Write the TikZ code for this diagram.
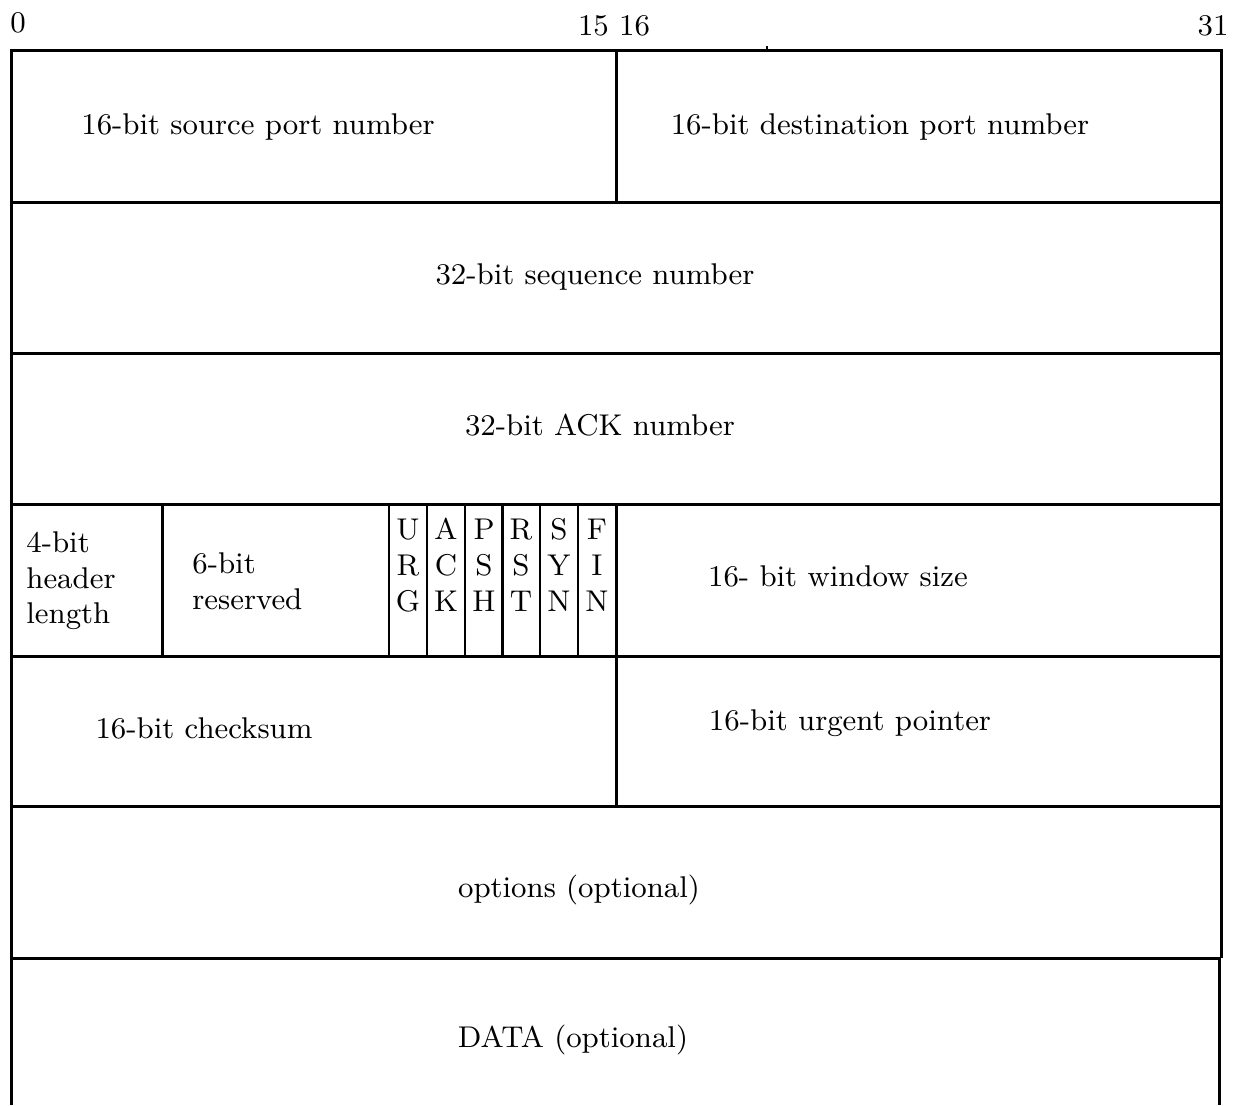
\documentclass[tikz,border=0pt]{standalone}
\usepackage{fontspec}
\setmainfont{lmroman9-regular.otf}
\begin{document}
\begin{tikzpicture}[x=0.5pt,y=-0.5pt,
  frame/.style={line width=1.5pt},
  thin/.style={line width=1.1pt},
  lbl/.style={inner sep=0pt,anchor=base,font=\fontsize{15}{18}\selectfont},
  lbll/.style={lbl,anchor=base west}]
\useasboundingbox (0,0) rectangle (1244,1105);
% horizontal lines
\draw[frame] (11,1105) -- (11,50) -- (1221,50) -- (1221,958);
\draw[frame] (1219,958) -- (1219,1105);
\foreach \y in {202,353,504,656,806,958} \draw[frame] (11,\y) -- (1221,\y);
% verticals
\draw[frame] (616,50) -- (616,202);
\draw[frame] (616,504) -- (616,806);
\draw[frame] (162,504) -- (162,656);
\draw[thin] (767,46) -- (767,50);
\foreach \x in {389,427,465,540,578} \draw[thin] (\x,504) -- (\x,656);
\draw[frame] (502,504) -- (502,656);
% bit numbers
\node[lbl] (b0) at (18,32) {0};
\node[lbl] (b15) at (614,35) {15 16};
\node[lbl] (b31) at (1213,35) {31};
% fields
\node[lbl] (src) at (258,134) {16-bit source port number};
\node[lbl] (dst) at (880,134) {16-bit destination port number};
\node[lbl] (seq) at (595,284) {32-bit sequence number};
\node[lbl] (ack) at (600,435) {32-bit ACK number};
\node[lbll] (hl1) at (26,552) {4-bit};
\node[lbll] (hl2) at (26,588) {header};
\node[lbll] (hl3) at (26,623) {length};
\node[lbll] (rs1) at (192,573) {6-bit};
\node[lbll] (rs2) at (192,609) {reserved};
\foreach \x/\a/\b/\c/\n in {408/U/R/G/urg,446/A/C/K/ack,484/P/S/H/psh,521/R/S/T/rst,559/S/Y/N/syn,597/F/I/N/fin}{
  \node[lbl] (\n1) at (\x,539) {\a};
  \node[lbl] (\n2) at (\x,575) {\b};
  \node[lbl] (\n3) at (\x,611) {\c};
}
\node[lbl] (win) at (838,586) {16- bit window size};
\node[lbl] (chk) at (204,738) {16-bit checksum};
\node[lbl] (urp) at (850,730) {16-bit urgent pointer};
\node[lbl] (opt) at (579,897) {options (optional)};
\node[lbl] (data) at (573,1047) {DATA (optional)};
\end{tikzpicture}
\end{document}
